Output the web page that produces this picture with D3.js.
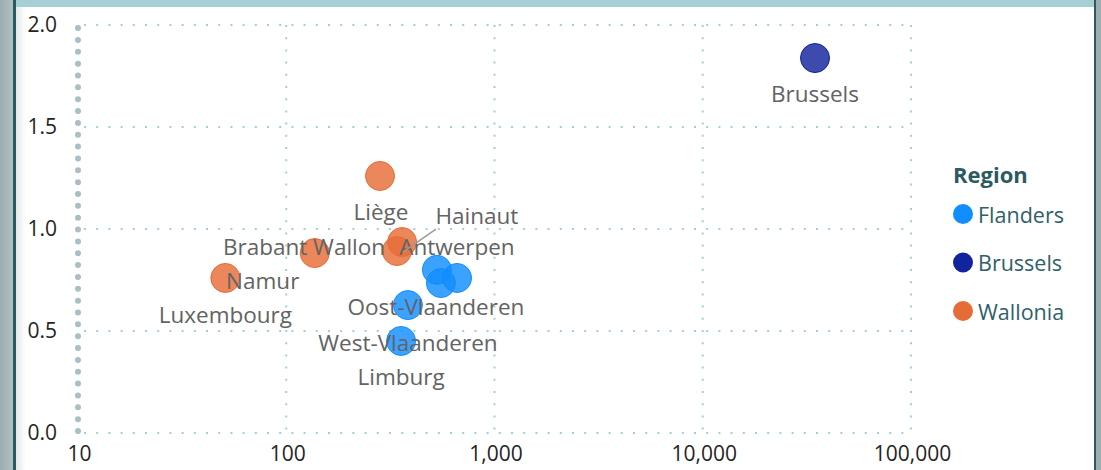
<html>
<head>
<meta charset="UTF-8">
<title>Regions scatter</title>
<script src="https://d3js.org/d3.v7.min.js"></script>
<style>
  body { margin: 0; background: #fff; }
  svg { display: block; }
  text { font-family: "Segoe UI", "Open Sans", sans-serif; }
</style>
</head>
<body>
<svg width="1101" height="470"></svg>
<script>
// data
var provinces = ["Antwerpen", "Oost-Vlaanderen", "West-Vlaanderen", "Limburg", "Vlaams-Brabant",
                 "Brussels", "Hainaut", "Liège", "Luxembourg", "Namur", "Brabant Wallon"];
var provRegion = ["Flanders", "Flanders", "Flanders", "Flanders", "Flanders",
                  "Brussels", "Wallonia", "Wallonia", "Wallonia", "Wallonia", "Wallonia"];
var xValues = [553, 529, 384, 356, 661, 34600, 340, 282, 51, 137, 360];
var yValues = [0.735, 0.80, 0.627, 0.451, 0.76, 1.838, 0.892, 1.26, 0.76, 0.882, 0.936];
var showLabel = [true, true, true, true, false, true, true, true, true, true, true];

var regionNames = ["Flanders", "Brussels", "Wallonia"];
var regionColors = ["#118DFF", "#12239E", "#E66C37"];
var xTicks = [10, 100, 1000, 10000, 100000];
var yTicks = [0, 0.5, 1, 1.5, 2];

// label placement relative to the point (layout only)
var labelPlace = {
  "Antwerpen":       {dx: 16,  dy: -37, anchor: "middle"},
  "Oost-Vlaanderen": {dx: -1,  dy: 37,  anchor: "middle"},
  "West-Vlaanderen": {dx: 0,   dy: 37,  anchor: "middle"},
  "Limburg":         {dx: 0,   dy: 36,  anchor: "middle"},
  "Brussels":        {dx: 0,   dy: 35,  anchor: "middle"},
  "Hainaut":         {dx: 80,  dy: -36, anchor: "middle", leader: [6, 1, 39, -22]},
  "Liège":           {dx: 1,   dy: 36,  anchor: "middle"},
  "Luxembourg":      {dx: 0,   dy: 37,  anchor: "middle"},
  "Namur":           {dx: -52, dy: 27,  anchor: "middle"},
  "Brabant Wallon":  {dx: -17, dy: 4,   anchor: "end"}
};

var svg = d3.select("svg");
var defs = svg.append("defs");
var g1 = defs.append("linearGradient").attr("id", "sideGrad");
g1.append("stop").attr("offset", "0%").attr("stop-color", "#9BADB0");
g1.append("stop").attr("offset", "100%").attr("stop-color", "#B2C1C3");
var g2 = defs.append("linearGradient").attr("id", "shadeGrad");
g2.append("stop").attr("offset", "0%").attr("stop-color", "#E4E8E9");
g2.append("stop").attr("offset", "100%").attr("stop-color", "#FFFFFF");

// frame
svg.append("rect").attr("x", 0).attr("y", 0).attr("width", 13).attr("height", 470).attr("fill", "url(#sideGrad)");
svg.append("rect").attr("x", 13).attr("y", 0).attr("width", 3).attr("height", 470).attr("fill", "#2D5A61");
svg.append("rect").attr("x", 16).attr("y", 0).attr("width", 10).attr("height", 470).attr("fill", "url(#shadeGrad)");
svg.append("rect").attr("x", 16).attr("y", 0).attr("width", 1078).attr("height", 7).attr("fill", "#A5CFD5");
svg.append("rect").attr("x", 1094).attr("y", 0).attr("width", 2).attr("height", 470).attr("fill", "#2D5A61");
svg.append("rect").attr("x", 1096).attr("y", 0).attr("width", 5).attr("height", 470).attr("fill", "#9EADB0");

var xScale = d3.scaleLog().domain([10, 100000]).range([78, 911]);
var yScale = d3.scaleLinear().domain([0, 2]).range([433, 25]);
var color = d3.scaleOrdinal().domain(regionNames).range(regionColors);

// grid
var grid = svg.append("g");
grid.selectAll("line.h").data(yTicks).enter().append("line")
  .attr("x1", xScale(10) + 6).attr("x2", xScale(100000))
  .attr("y1", function(d) { return yScale(d); })
  .attr("y2", function(d) { return yScale(d); })
  .attr("stroke", "#9FD0D6").attr("stroke-width", 2).attr("stroke-dasharray", "2 10.2");
grid.selectAll("line.v").data(xTicks.slice(1)).enter().append("line")
  .attr("x1", function(d) { return xScale(d); })
  .attr("x2", function(d) { return xScale(d); })
  .attr("y1", yScale(2)).attr("y2", yScale(0))
  .attr("stroke", "#9FD0D6").attr("stroke-width", 2).attr("stroke-dasharray", "2 10.2");
// the thick dotted line at the left edge
grid.append("line")
  .attr("x1", xScale(10)).attr("x2", xScale(10))
  .attr("y1", yScale(0) - 2).attr("y2", yScale(2) - 2)
  .attr("stroke", "#A9BFC3").attr("stroke-width", 6)
  .attr("stroke-linecap", "round").attr("stroke-dasharray", "0 11.85");

// axes (text only)
var yAxis = d3.axisLeft(yScale).tickValues(yTicks).tickFormat(d3.format(".1f")).tickSize(0).tickPadding(0);
var ya = svg.append("g").attr("transform", "translate(57,0)").call(yAxis);
var xAxis = d3.axisBottom(xScale).tickValues(xTicks).tickFormat(d3.format(",")).tickSize(0).tickPadding(0);
var xa = svg.append("g").attr("transform", "translate(1,446)").call(xAxis);
[ya, xa].forEach(function(a) {
  a.select(".domain").remove();
  a.selectAll("text").attr("fill", "#252423").style("font-size", "21px")
    .style("font-family", "'Segoe UI', 'Open Sans', sans-serif");
});
xa.selectAll("text").attr("dy", "0.71em");

// points
var pts = provinces.map(function(p, i) {
  return {name: p, region: provRegion[i], x: xValues[i], y: yValues[i], label: showLabel[i]};
});
svg.append("g").selectAll("circle").data(pts).enter().append("circle")
  .attr("cx", function(d) { return xScale(d.x); })
  .attr("cy", function(d) { return yScale(d.y); })
  .attr("r", 14.5)
  .attr("fill", function(d) { return color(d.region); })
  .attr("fill-opacity", 0.82)
  .attr("stroke", function(d) { return color(d.region); })
  .attr("stroke-width", 1);

// leader lines + labels
var lab = svg.append("g");
pts.filter(function(d) { return d.label; }).forEach(function(d) {
  var lp = labelPlace[d.name];
  var px = xScale(d.x), py = yScale(d.y);
  if (lp.leader) {
    lab.append("line")
      .attr("x1", px + lp.leader[0]).attr("y1", py + lp.leader[1])
      .attr("x2", px + lp.leader[2]).attr("y2", py + lp.leader[3])
      .attr("stroke", "#9A9A9A").attr("stroke-width", 1.5);
  }
  lab.append("text")
    .attr("x", px + lp.dx).attr("y", py + lp.dy)
    .attr("text-anchor", lp.anchor)
    .attr("dominant-baseline", "central")
    .attr("fill", "#636363")
    .style("font-size", "22.5px")
    .text(d.name);
});

// legend
var legend = svg.append("g").attr("transform", "translate(953,0)");
legend.append("text").attr("x", 0).attr("y", 183)
  .attr("fill", "#2B5A61").style("font-size", "22px").style("font-weight", "bold")
  .text("Region");
var items = legend.selectAll("g.item").data(regionNames).enter().append("g")
  .attr("transform", function(d, i) { return "translate(0," + (214 + i * 48.5) + ")"; });
items.append("circle").attr("cx", 10).attr("cy", 0).attr("r", 10)
  .attr("fill", function(d) { return color(d); });
items.append("text").attr("x", 25).attr("y", 0).attr("dominant-baseline", "central")
  .attr("fill", "#30606A").style("font-size", "21.5px")
  .text(function(d) { return d; });
</script>
</body>
</html>
